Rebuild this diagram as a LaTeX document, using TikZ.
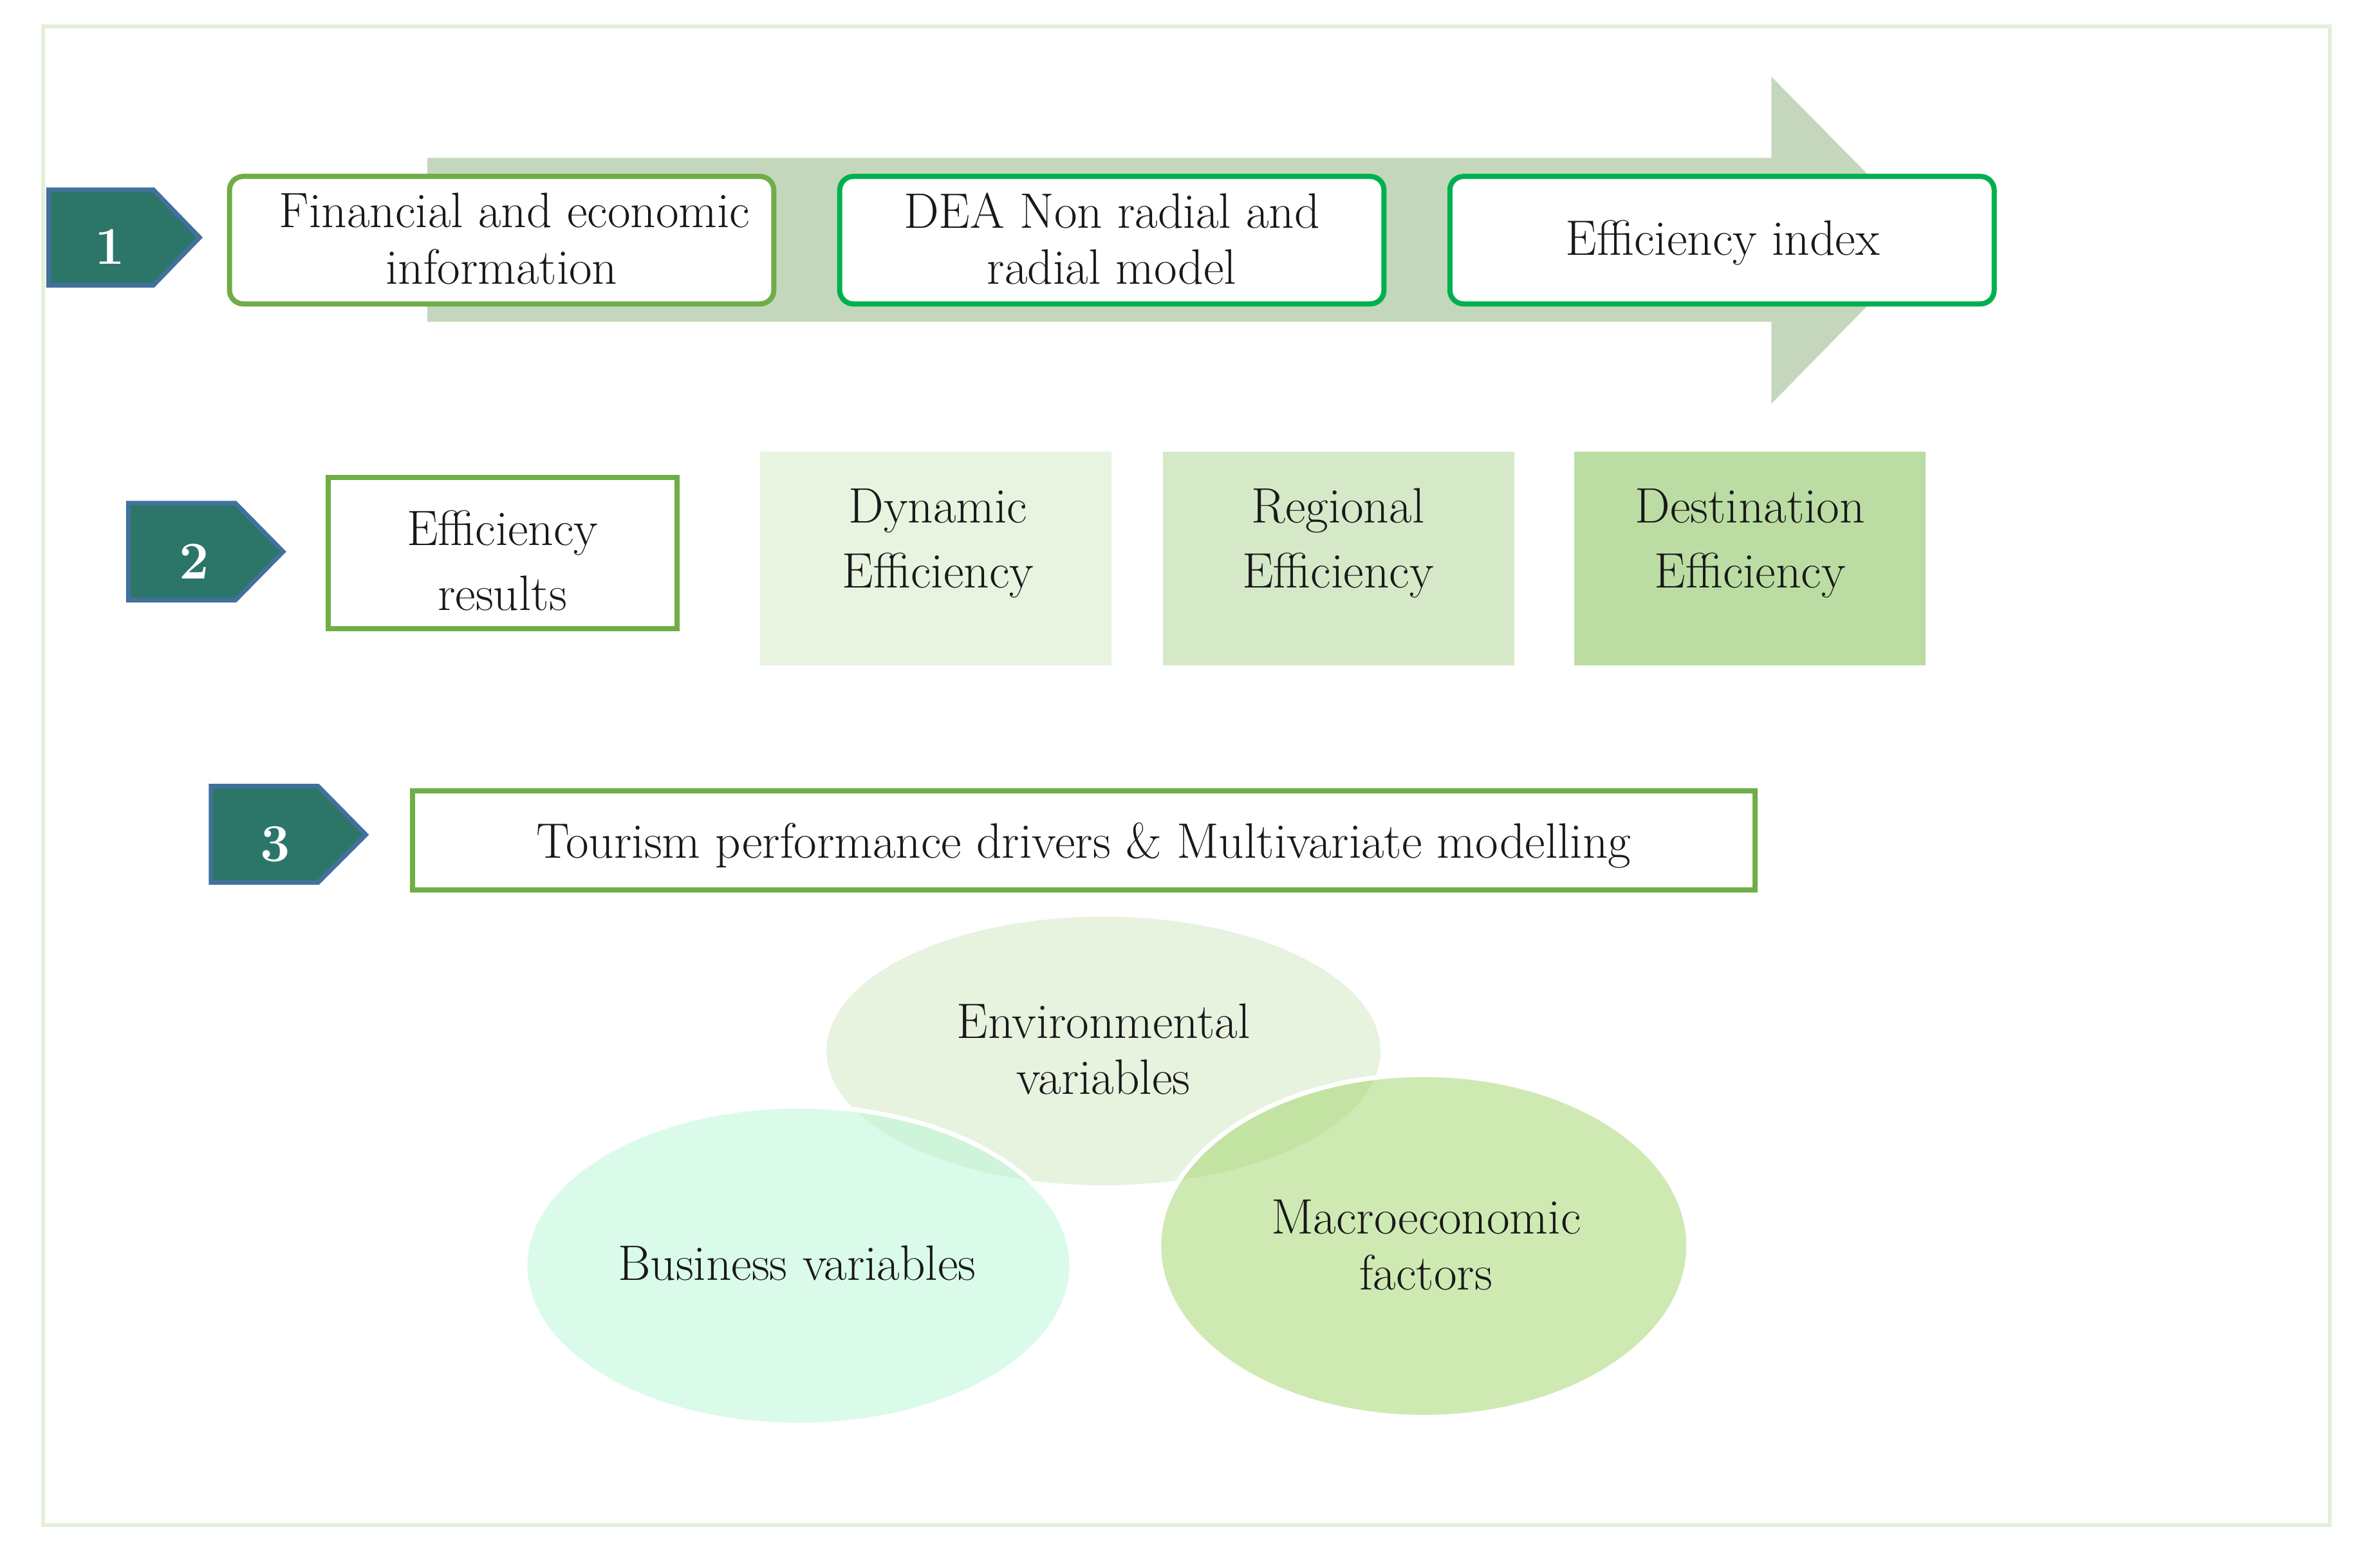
\documentclass[tikz,border=0pt]{standalone}
\usetikzlibrary{shapes.geometric}
\definecolor{framegreen}{RGB}{226,240,217}
\definecolor{arrowgreen}{RGB}{196,215,189}
\definecolor{boxgreen}{RGB}{112,173,71}
\definecolor{brightgreen}{RGB}{0,176,80}
\definecolor{chevteal}{RGB}{43,118,105}
\definecolor{chevblue}{RGB}{65,113,156}
\definecolor{dynfill}{RGB}{232,243,224}
\definecolor{regfill}{RGB}{213,233,200}
\definecolor{desfill}{RGB}{187,221,163}
\definecolor{envfill}{RGB}{209,231,193}
\definecolor{busfill}{RGB}{183,249,215}
\definecolor{macfill}{RGB}{161,213,105}
\definecolor{txt}{RGB}{25,25,25}
\begin{document}
\begin{tikzpicture}[x=0.5pt, y=-0.5pt,
  lbl/.style={text=txt, font=\fontsize{16.4}{18.5}\selectfont, align=center, inner sep=0pt},
  lblwide/.style={lbl, font=\fontsize{16.4}{21.4}\selectfont},
  rbox/.style={draw, line width=1.7pt, rounded corners=4.5pt, fill=white, inner sep=0pt, minimum width=179.3pt, minimum height=42pt},
  sbox/.style={draw=boxgreen, line width=1.7pt, fill=white, inner sep=0pt},
  tile/.style={draw=none, inner sep=0pt, minimum width=115.75pt, minimum height=70.5pt},
  chev/.style={fill=chevteal, draw=chevblue, line width=1.5pt, line join=miter},
  num/.style={text=white, font=\fontsize{17.5}{20}\bfseries\selectfont, inner sep=0pt, anchor=base},
  blob/.style={ellipse, draw=white, line width=1.5pt, fill opacity=0.5, inner sep=0pt}]
\useasboundingbox (0,0) rectangle (1568,1029.5);
\fill[white] (0,0) rectangle (1568,1029.5);

% big background arrow
\fill[arrowgreen] (281.5,104) -- (1167,104) -- (1167,50.5) -- (1273,158) -- (1167,266) -- (1167,212) -- (281.5,212) -- cycle;

% row 1
\node[rbox, draw=boxgreen] (b1) at (330.5,158.25) {};
\node[rbox, draw=brightgreen] (b2) at (732.5,158.25) {};
\node[rbox, draw=brightgreen] (b3) at (1134.5,158.25) {};
\node[lbl] (t1) at (330.5,157.3) {\hspace*{8.5pt}Financial and economic\\information};
\node[lbl] (t2) at (732.5,157.3) {DEA Non radial and\\radial model};
\node[lbl] (t3) at (1135,159.8) {Efficiency index};

% chevrons
\draw[chev] (32,125) -- (101,125) -- (131.5,156.5) -- (101,188) -- (32,188) -- cycle;
\draw[chev] (84.5,331.5) -- (155,331.5) -- (186.5,363.5) -- (155,395.5) -- (84.5,395.5) -- cycle;
\draw[chev] (139,518) -- (209.5,518) -- (241,550) -- (209.5,581.5) -- (139,581.5) -- cycle;
\node[num] (n1) at (72.4,174) {1};
\node[num] (n2) at (128,381.5) {2};
\node[num] (n3) at (181.5,567.5) {3};

% row 2
\node[sbox, minimum width=115pt, minimum height=49.8pt] (er) at (331.25,364.5) {};
\node[lblwide] (ert) at (331,369.4) {Efficiency\\results};
\node[tile, fill=dynfill] (dy) at (616.5,368) {};
\node[tile, fill=regfill] (rg) at (882,368) {};
\node[tile, fill=desfill] (de) at (1153,368) {};
\node[lblwide] (dyt) at (618,358) {Dynamic\\Efficiency};
\node[lblwide] (rgt) at (881.5,358) {Regional\\Efficiency};
\node[lblwide] (det) at (1153,358) {Destination\\Efficiency};

% row 3
\node[sbox, minimum width=442.3pt, minimum height=32.5pt] (tp) at (714,553.75) {};
\node[lbl] (tpt) at (714,557.3) {Tourism performance drivers \& Multivariate modelling};

% ellipses
\node[blob, fill=envfill, minimum width=184pt, minimum height=90pt] (env) at (727,692.5) {};
\node[blob, fill=busfill, minimum width=180pt, minimum height=105pt] (bus) at (526,834) {};
\node[blob, fill=macfill, minimum width=174.5pt, minimum height=112.8pt] (mac) at (938,821) {};
\node[lbl] (envt) at (727,691.4) {Environmental\\variables};
\node[lbl] (bust) at (525,832.1) {Business variables};
\node[lbl] (mact) at (939.5,820.3) {Macroeconomic\\factors};

% outer frame
\draw[framegreen, line width=1.3pt] (28.5,17.5) rectangle (1535,1005);
\end{tikzpicture}
\end{document}
